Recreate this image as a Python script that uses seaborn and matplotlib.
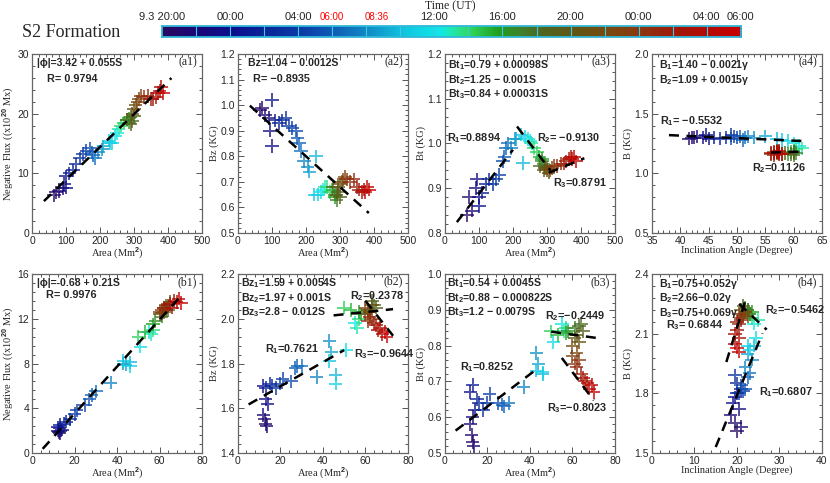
import numpy as np
import pandas as pd
import seaborn as sns
import matplotlib
matplotlib.use("Agg")
from matplotlib import pyplot as plt
from matplotlib.colors import LinearSegmentedColormap
from matplotlib.ticker import MultipleLocator, AutoMinorLocator

# time of each sample, hours after 3 Sep 20:00 UT
hours = [0.3, 1.0, 1.7, 2.3, 3.0, 3.7, 4.3, 5.0, 5.7, 6.3, 7.0, 7.7,
         8.3, 9.0, 9.7, 10.3, 11.0, 11.7, 12.3, 13.0, 13.7, 14.3, 15.0, 15.7,
         16.3, 17.0, 17.7, 18.3, 19.0, 19.7, 20.3, 21.0, 21.7, 22.3, 23.0, 23.7,
         24.3, 25.0, 25.7, 26.3, 27.0, 27.7, 28.3, 29.0, 29.7, 30.3, 31.0, 31.7,
         32.3, 33.0, 33.7]

# row (a)
area_a = [65, 70, 80, 90, 95, 100, 100, 110, 120, 130, 140, 150,
          160, 170, 175, 180, 185, 195, 205, 210, 230, 225, 235, 245,
          250, 255, 262, 270, 278, 285, 285, 290, 295, 280, 300, 290,
          295, 300, 305, 310, 315, 320, 330, 340, 350, 355, 365, 370,
          375, 380, 385]
flux_a = [6.3, 6.8, 7.0, 7.5, 8.2, 7.6, 9.5, 10.0, 10.5, 11.5, 12.5, 13.2,
          13.8, 14.2, 13.5, 13.0, 12.5, 13.5, 14.0, 14.5, 15.0, 15.5, 15.0, 16.3,
          16.8, 17.5, 18.0, 18.5, 19.0, 19.2, 18.5, 19.5, 18.8, 19.0, 19.6, 18.3,
          20.0, 20.8, 21.5, 22.0, 22.5, 23.0, 22.8, 23.0, 22.5, 22.5, 22.8, 23.5,
          23.8, 24.5, 23.5]
bz_a = [0.98, 0.99, 0.96, 0.95, 0.90, 0.84, 1.02, 0.94, 0.93, 0.94, 0.95, 0.92,
        0.91, 0.90, 0.87, 0.85, 0.82, 0.78, 0.76, 0.74, 0.80, 0.65, 0.65, 0.66,
        0.67, 0.68, 0.68, 0.66, 0.67, 0.64, 0.65, 0.63, 0.66, 0.68, 0.64, 0.65,
        0.68, 0.69, 0.70, 0.71, 0.72, 0.71, 0.70, 0.71, 0.68, 0.67, 0.66, 0.67,
        0.66, 0.68, 0.67]
bt_a = [0.84, 0.88, 0.85, 0.90, 0.92, 0.88, 0.86, 0.89, 0.91, 0.92, 0.91, 0.92,
        0.93, 0.96, 0.97, 0.99, 1.00, 0.99, 1.01, 1.01, 0.957, 1.02, 1.015, 1.01,
        1.005, 1.00, 0.99, 0.98, 0.97, 0.965, 0.96, 0.955, 0.95, 0.95, 0.945, 0.94,
        0.945, 0.94, 0.935, 0.94, 0.945, 0.95, 0.95, 0.955, 0.955, 0.96, 0.965, 0.97,
        0.965, 0.97, 0.96]
incl_a = [41.5, 42.5, 43.0, 42.0, 44.0, 45.0, 44.5, 46.0, 47.0, 48.0, 49.0, 49.5,
          50.0, 49.0, 50.5, 51.0, 51.5, 52.0, 53.0, 55.0, 57.0, 58.0, 59.0, 60.0,
          61.0, 61.5, 60.5, 60.0, 59.5, 60.0, 59.0, 60.5, 60.0, 59.5, 60.0, 58.5,
          58.0, 57.5, 57.0, 56.5, 57.0, 56.0, 57.5, 56.5, 57.0, 56.0, 57.5, 58.0,
          57.0, 56.5, 57.5]
b_a = [1.29, 1.30, 1.31, 1.30, 1.30, 1.29, 1.32, 1.30, 1.29, 1.30, 1.32, 1.31,
       1.30, 1.29, 1.31, 1.28, 1.30, 1.31, 1.30, 1.31, 1.29, 1.28, 1.27, 1.25,
       1.23, 1.21, 1.20, 1.19, 1.18, 1.17, 1.16, 1.17, 1.15, 1.16, 1.18, 1.17,
       1.16, 1.18, 1.17, 1.18, 1.19, 1.16, 1.17, 1.15, 1.18, 1.17, 1.19, 1.16,
       1.18, 1.17, 1.16]

# row (b)
area_b = [13, 12.5, 13.5, 12, 13, 14, 12, 13, 15, 16, 18, 20,
          21, 25, 27, 28, 30, 37, 43, 44, 46, 43, 46, 51,
          55, 56, 57, 50, 53, 57, 58, 61, 64, 63, 65, 62,
          61, 63, 60, 62, 60, 63, 61, 62, 64, 65, 66, 67,
          68, 69, 70]
flux_b = [1.8, 1.9, 2.0, 2.0, 2.2, 2.1, 2.3, 2.5, 2.6, 2.8, 3.0, 3.5,
          3.8, 4.3, 4.8, 5.2, 5.5, 6.3, 8.0, 7.9, 8.1, 8.2, 7.8, 9.5,
          10.8, 10.6, 11.0, 10.4, 10.8, 11.5, 11.8, 12.2, 12.8, 13.2, 13.5, 12.6,
          12.5, 12.8, 12.4, 13.0, 12.6, 12.9, 12.8, 13.0, 13.2, 13.3, 13.0, 13.6,
          13.5, 13.8, 13.4]
bz_b = [1.53, 1.55, 1.52, 1.57, 1.64, 1.62, 1.70, 1.69, 1.71, 1.70, 1.69, 1.71,
        1.73, 1.72, 1.78, 1.79, 1.79, 1.74, 1.90, 1.85, 1.75, 1.81, 1.71, 1.86,
        1.98, 1.96, 2.00, 2.05, 2.04, 2.03, 2.02, 2.04, 2.06, 2.08, 2.05, 2.03,
        2.04, 2.06, 2.02, 2.03, 2.05, 2.00, 1.99, 2.01, 1.98, 1.97, 1.95, 1.96,
        1.93, 1.94, 1.92]
bt_b = [0.53, 0.55, 0.52, 0.58, 0.60, 0.62, 0.67, 0.69, 0.65, 0.64, 0.62, 0.64,
        0.665, 0.64, 0.635, 0.63, 0.64, 0.685, 0.78, 0.75, 0.72, 0.73, 0.725, 0.81,
        0.86, 0.84, 0.85, 0.84, 0.83, 0.835, 0.84, 0.85, 0.86, 0.855, 0.84, 0.83,
        0.82, 0.81, 0.80, 0.78, 0.77, 0.76, 0.75, 0.74, 0.72, 0.71, 0.70, 0.695,
        0.68, 0.69, 0.67]
incl_b = [20, 19.5, 21, 18.5, 20.5, 19, 19.5, 20, 21, 20, 19.5, 21.5,
          20.5, 21, 22, 22.5, 23, 22, 23.5, 22.5, 24, 23, 22.5, 24.5,
          24, 25, 23.5, 23, 22.5, 23.5, 22, 23, 22.5, 21.5, 22, 22.5,
          21, 21.5, 22, 21, 21.5, 20.5, 20.5, 21, 20, 20, 19.5, 20.5,
          19.5, 20, 20.5]
b_b = [1.61, 1.65, 1.63, 1.69, 1.72, 1.75, 1.78, 1.80, 1.82, 1.85, 1.89, 1.81,
       1.80, 1.84, 1.82, 1.88, 1.90, 1.93, 1.97, 2.00, 2.04, 2.02, 2.04, 2.08,
       2.15, 2.17, 2.18, 2.20, 2.22, 2.21, 2.23, 2.20, 2.22, 2.24, 2.21, 2.19,
       2.22, 2.20, 2.21, 2.18, 2.19, 2.20, 2.15, 2.17, 2.16, 2.12, 2.10, 2.08,
       2.05, 2.03, 2.01]

# colour table along the 34 h of the time bar
cmap_stops = [(0.00, "#2a0a62"), (0.06, "#1a0878"), (0.12, "#0c108e"),
              (0.18, "#0a2898"), (0.24, "#0c3ca8"), (0.30, "#1060b8"),
              (0.36, "#1090c8"), (0.42, "#10c8e0"), (0.48, "#10e8e8"),
              (0.50, "#20e8b0"), (0.53, "#30d860"), (0.58, "#20a020"),
              (0.62, "#40802c"), (0.66, "#506420"), (0.72, "#645414"),
              (0.78, "#7c4810"), (0.84, "#903010"), (0.90, "#a41408"),
              (1.00, "#c80000")]
tcmap = LinearSegmentedColormap.from_list("time", cmap_stops)

# regression lines: (intercept, slope, x from, x to)
fits = {
    "a1": [(3.42, 0.055, 35, 410)],
    "a2": [(1.04, -0.0012, 35, 385)],
    "a3": [(0.79, 0.00098, 35, 200), (1.25, -0.001, 212, 310), (0.84, 0.00031, 305, 410)],
    "a4": [(1.40, -0.0021, 38, 62), (1.09, 0.0015, 56, 62)],
    "b1": [(-0.68, 0.21, 5, 69)],
    "b2": [(1.59, 0.0054, 5, 50), (1.97, 0.001, 45, 73), (2.8, -0.012, 60, 73)],
    "b3": [(0.54, 0.0045, 5, 43), (0.88, -0.000822, 50, 72), (1.2, -0.0079, 55, 70)],
    "b4": [(0.75, 0.052, 15, 26), (2.66, -0.02, 20.5, 27), (0.75, 0.069, 17.5, 22)],
}

# fit equations (top-left block) and correlation labels
equations = {
    "a1": ["|ϕ|=3.42 + 0.055S"],
    "a2": ["Bz=1.04 − 0.0012S"],
    "a3": ["Bt$_1$=0.79 + 0.00098S", "Bt$_2$=1.25 − 0.001S", "Bt$_3$=0.84 + 0.00031S"],
    "a4": ["B$_1$=1.40 − 0.0021γ", "B$_2$=1.09 + 0.0015γ"],
    "b1": ["|ϕ|=-0.68 + 0.21S"],
    "b2": ["Bz$_1$=1.59 + 0.0054S", "Bz$_2$=1.97 + 0.001S", "Bz$_3$=2.8 − 0.012S"],
    "b3": ["Bt$_1$=0.54 + 0.0045S", "Bt$_2$=0.88 − 0.000822S", "Bt$_3$=1.2 − 0.0079S"],
    "b4": ["B$_1$=0.75+0.052γ", "B$_2$=2.66−0.02γ", "B$_3$=0.75+0.069γ"],
}
eq_pos = {"a1": (0.03, 0.975), "a2": (0.06, 0.975), "a3": (0.015, 0.975),
          "a4": (0.04, 0.975), "b1": (0.03, 0.975), "b2": (0.02, 0.985),
          "b3": (0.01, 0.985), "b4": (0.04, 0.985)}
corr = {
    "a1": [("R= 0.9794", 0.09, 0.86)],
    "a2": [("R= −0.8935", 0.09, 0.86)],
    "a3": [("R$_1$=0.8894", 0.01, 0.53), ("R$_2$= −0.9130", 0.54, 0.53),
           ("R$_3$=0.8791", 0.635, 0.28)],
    "a4": [("R$_1$= −0.5532", 0.05, 0.623), ("R$_2$=0.1126", 0.59, 0.36)],
    "b1": [("R= 0.9976", 0.08, 0.885)],
    "b2": [("R$_2$=0.2378", 0.66, 0.875), ("R$_1$=0.7621", 0.16, 0.58),
           ("R$_3$=−0.9644", 0.68, 0.555)],
    "b3": [("R$_2$=−0.2449", 0.59, 0.765), ("R$_1$=0.8252", 0.09, 0.48),
           ("R$_3$=−0.8023", 0.6, 0.253)],
    "b4": [("R$_3$= 0.6844", 0.08, 0.713), ("R$_2$=−0.5462", 0.665, 0.8),
           ("R$_1$=0.6807", 0.63, 0.34)],
}

area_lbl = "Area (Mm$^2$)"
incl_lbl = "Inclination Angle (Degree)"
flux_lbl = "Negative Flux ((x10$^{20}$ Mx)"

panels = [
    ("a1", area_a, flux_a, (0, 500, 100), (0, 30, 10), area_lbl, flux_lbl),
    ("a2", area_a, bz_a, (0, 500, 100), (0.5, 1.2, 0.1), area_lbl, "Bz (KG)"),
    ("a3", area_a, bt_a, (0, 500, 100), (0.8, 1.2, 0.1), area_lbl, "Bt (KG)"),
    ("a4", incl_a, b_a, (35, 65, 5), (0.5, 2.0, 0.5), incl_lbl, "B (KG)"),
    ("b1", area_b, flux_b, (0, 80, 20), (0, 16, 4), area_lbl, flux_lbl),
    ("b2", area_b, bz_b, (0, 80, 20), (1.4, 2.2, 0.2), area_lbl, "Bz (KG)"),
    ("b3", area_b, bt_b, (0, 80, 20), (0.5, 1.0, 0.1), area_lbl, "Bt (KG)"),
    ("b4", incl_b, b_b, (0, 40, 10), (1.5, 2.4, 0.3), incl_lbl, "B (KG)"),
]

sns.set_style("ticks")
plt.rcParams["font.family"] = ["Liberation Sans", "DejaVu Sans"]
plt.rcParams["mathtext.fontset"] = "custom"
plt.rcParams["mathtext.rm"] = "Liberation Sans:bold"
plt.rcParams["mathtext.it"] = "Liberation Sans:bold"
plt.rcParams["mathtext.default"] = "rm"

fig = plt.figure(figsize=(8.3, 4.83), dpi=100)

lefts = [0.0386, 0.2867, 0.5361, 0.7855]
bottoms = [0.5176, 0.0621]
label_font = dict(family=["Liberation Serif", "DejaVu Serif"], fontsize=7.5)

for i, (tag, xs, ys, xr, yr, xl, yl) in enumerate(panels):
    ax = fig.add_axes([lefts[i % 4], bottoms[i // 4], 0.2048, 0.3706])
    df = pd.DataFrame({"x": xs, "y": ys, "t": hours})
    sns.scatterplot(data=df, x="x", y="y", hue="t", palette=tcmap, hue_norm=(0, 34),
                    marker="+", s=95, linewidth=1.4, alpha=0.75, legend=False, ax=ax)
    for a, b, x0, x1 in fits[tag]:
        xx = np.array([x0, x1])
        ax.plot(xx, a + b * xx, color="black", lw=1.8, ls=(0, (4, 3)))
    ex, ey = eq_pos[tag]
    ax.text(ex, ey, "\n".join(equations[tag]), transform=ax.transAxes, fontsize=7.6,
            fontweight="bold", va="top", ha="left", linespacing=1.05)
    for txt, tx, ty in corr[tag]:
        ax.text(tx, ty, txt, transform=ax.transAxes, fontsize=7.8, fontweight="bold",
                va="center", ha="left")
    tag_y = 0.962 if tag == "b2" else 0.955
    ax.text(0.97, tag_y, f"({tag})", transform=ax.transAxes, fontsize=8.5,
            va="center", ha="right", family=["Liberation Serif", "DejaVu Serif"])
    ax.set_xlim(xr[0], xr[1])
    ax.set_ylim(yr[0], yr[1])
    ax.xaxis.set_major_locator(MultipleLocator(xr[2]))
    ax.yaxis.set_major_locator(MultipleLocator(yr[2]))
    ax.xaxis.set_minor_locator(AutoMinorLocator(5))
    ax.yaxis.set_minor_locator(AutoMinorLocator(5))
    ax.tick_params(which="both", direction="in", top=True, right=True, labelsize=7.5,
                   color="#555555", width=0.7, pad=2)
    ax.tick_params(which="major", length=4)
    ax.tick_params(which="minor", length=2)
    for sp in ax.spines.values():
        sp.set_color("#666666")
        sp.set_linewidth(0.9)
    ax.set_xlabel(xl, labelpad=0, **label_font)
    ax.set_ylabel(yl, labelpad=1, **label_font)

# time colour bar
cax = fig.add_axes([0.195, 0.923, 0.6976, 0.0228])
grad = np.linspace(0, 34, 680).reshape(1, -1)
cax.imshow(grad, cmap=tcmap, vmin=0, vmax=34, aspect="auto", extent=[0, 34, 0, 1])
for h in range(2, 34, 2):
    cax.axvline(h, color="#40c8e0", lw=0.8)
for sp in cax.spines.values():
    sp.set_color("#30b8d8")
    sp.set_linewidth(1.3)
cax.set_yticks([])
tick_hours = [0, 4, 8, 10, 12.6, 16, 20, 24, 28, 32, 34]
tick_labels = ["9.3 20:00", "00:00", "04:00", "06:00", "08:36", "12:00",
               "16:00", "20:00", "00:00", "04:00", "06:00"]
cax.set_xticks(tick_hours)
cax.set_xticklabels(tick_labels)
cax.tick_params(axis="x", top=True, bottom=False, labeltop=True, labelbottom=False,
                length=0, pad=3, labelsize=8)
for lab in cax.get_xticklabels()[3:5]:
    lab.set_color("red")
    lab.set_fontsize(7)
cax.set_xlim(0, 34)

fig.text(0.543, 0.986, "Time (UT)", ha="center", va="center",
         family=["Liberation Serif", "DejaVu Serif"], fontsize=8.5)
fig.text(0.026, 0.932, "S2 Formation", ha="left", va="center",
         family=["Liberation Serif", "DejaVu Serif"], fontsize=13)

fig.savefig("out.png", dpi=100)
